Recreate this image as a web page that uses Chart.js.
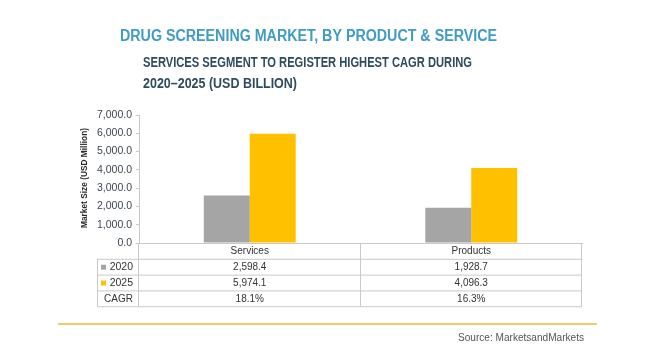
<!DOCTYPE html>
<html>
<head>
<meta charset="utf-8">
<script src="https://cdn.jsdelivr.net/npm/chart.js@4/dist/chart.umd.min.js"></script>
<style>
html,body{margin:0;padding:0;background:#fff;}
#wrap{position:relative;width:666px;height:361px;}
</style>
</head>
<body>
<div id="wrap"><canvas id="c" width="666" height="361"></canvas></div>
<script>
const categories = ['Services', 'Products'];
const seriesNames = ['2020', '2025'];
const values2020 = [2598.4, 1928.7];
const values2025 = [5974.1, 4096.3];
const cagrLabels = ['18.1%', '16.3%'];
const yTickMax = 7000;
const yTickStep = 1000;

const titleText = 'DRUG SCREENING MARKET, BY PRODUCT & SERVICE';
const subtitleLines = ['SERVICES SEGMENT TO REGISTER HIGHEST CAGR DURING', '2020\u20132025 (USD BILLION)'];
const yAxisTitle = 'Market Size (USD Million)';
const sourceText = 'Source: MarketsandMarkets';

const GRAY = '#a5a5a5', GOLD = '#ffc000';
const fmt = v => v.toLocaleString('en-US', {minimumFractionDigits: 1, maximumFractionDigits: 1});

function fitText(ctx, text, x, y, width, font, color, align) {
  ctx.save();
  ctx.font = font;
  ctx.fillStyle = color;
  ctx.textBaseline = 'middle';
  ctx.textAlign = 'left';
  const w = ctx.measureText(text).width;
  const s = width / w;
  let x0 = x;
  if (align === 'right') x0 = x - width;
  ctx.translate(x0, y);
  ctx.scale(s, 1);
  ctx.fillText(text, 0, 0);
  ctx.restore();
}

const decor = {
  id: 'decor',
  afterDraw(chart) {
    const ctx = chart.ctx;
    const ca = chart.chartArea;
    const xs = chart.scales.x;
    // Titles
    fitText(ctx, titleText, 120, 37, 377, 'bold 16px "Liberation Sans"', '#3f9cc2');
    fitText(ctx, subtitleLines[0], 143, 63, 329, 'bold 14px "Liberation Sans"', '#2f4b5e');
    fitText(ctx, subtitleLines[1], 143, 84, 154, 'bold 14px "Liberation Sans"', '#2f4b5e');
    // y axis title
    ctx.save();
    ctx.translate(85, 178);
    ctx.rotate(-Math.PI / 2);
    fitText(ctx, yAxisTitle, -50, 0, 100, 'bold 9px "Liberation Sans"', '#2b2b2b');
    ctx.restore();

    // Table
    const left = ca.left, right = ca.right;
    const mid = (xs.getPixelForValue(0) + xs.getPixelForValue(1)) / 2;
    const cols = [left, mid, right];
    const labelLeft = 97;
    const rowH = 15.8;
    const top = ca.bottom;
    const rows = [top, top + rowH, top + 2 * rowH, top + 3 * rowH, top + 4 * rowH];
    ctx.save();
    ctx.strokeStyle = '#c9c9c9';
    ctx.lineWidth = 1;
    const line = (x1, y1, x2, y2) => { ctx.beginPath(); ctx.moveTo(x1, y1); ctx.lineTo(x2, y2); ctx.stroke(); };
    // horizontal
    line(labelLeft, rows[1] + 0.5, right, rows[1] + 0.5);
    line(labelLeft, rows[2] + 0.5, right, rows[2] + 0.5);
    line(labelLeft, rows[3] + 0.5, right, rows[3] + 0.5);
    line(labelLeft, rows[4] + 0.5, right, rows[4] + 0.5);
    // vertical
    cols.forEach(c => line(Math.round(c) - 0.5, top, Math.round(c) - 0.5, rows[4]));
    line(labelLeft + 0.5, rows[1], labelLeft + 0.5, rows[4]);
    ctx.restore();

    ctx.save();
    ctx.font = '10px "Liberation Sans"';
    ctx.fillStyle = '#333';
    ctx.textBaseline = 'middle';
    ctx.textAlign = 'center';
    const rc = i => (rows[i] + rows[i + 1]) / 2 + 0.5;
    categories.forEach((cat, i) => {
      const cx = xs.getPixelForValue(i);
      ctx.fillText(cat, cx, rc(0));
      ctx.fillText(fmt(values2020[i]), cx, rc(1));
      ctx.fillText(fmt(values2025[i]), cx, rc(2));
      ctx.fillText(cagrLabels[i], cx, rc(3));
    });
    ctx.textAlign = 'right';
    ctx.font = '10.5px "Liberation Sans"';
    ctx.fillText(seriesNames[0], 133, rc(1));
    ctx.fillText(seriesNames[1], 133, rc(2));
    ctx.font = '10px "Liberation Sans"';
    ctx.fillText('CAGR', 133, rc(3));
    ctx.fillStyle = GRAY;
    ctx.fillRect(101, rc(1) - 2.5, 5, 5);
    ctx.fillStyle = GOLD;
    ctx.fillRect(101, rc(2) - 2.5, 5, 5);
    ctx.restore();

    // gold rule + source
    ctx.save();
    ctx.fillStyle = '#edcb6b';
    ctx.fillRect(58, 323, 539, 2);
    ctx.restore();
    fitText(ctx, sourceText, 458, 338, 126, '10px "Liberation Sans"', '#555');
  }
};

new Chart(document.getElementById('c'), {
  type: 'bar',
  data: {
    labels: categories,
    datasets: [
      {label: seriesNames[0], data: values2020, backgroundColor: GRAY},
      {label: seriesNames[1], data: values2025, backgroundColor: GOLD}
    ]
  },
  options: {
    responsive: false,
    animation: false,
    devicePixelRatio: 1,
    layout: {padding: {left: 0, right: 84, top: 115, bottom: 0}},
    datasets: {bar: {categoryPercentage: 0.415, barPercentage: 1.0}},
    plugins: {legend: {display: false}, tooltip: {enabled: false}, title: {display: false}},
    scales: {
      x: {
        ticks: {display: false},
        grid: {display: false},
        border: {display: true, color: '#c9c9c9'},
        afterFit(s) { s.height = 118; }
      },
      y: {
        min: 0, max: yTickMax,
        ticks: {
          stepSize: yTickStep,
          color: '#3d4650',
          font: {family: '"Liberation Sans"', size: 10.5},
          padding: 4,
          callback: v => fmt(v)
        },
        grid: {display: true, drawOnChartArea: false, drawTicks: true, tickLength: 3, color: '#c9c9c9'},
        border: {display: true, color: '#c9c9c9'},
        afterFit(s) { s.width = 139; }
      }
    }
  },
  plugins: [decor]
});
</script>
</body>
</html>
